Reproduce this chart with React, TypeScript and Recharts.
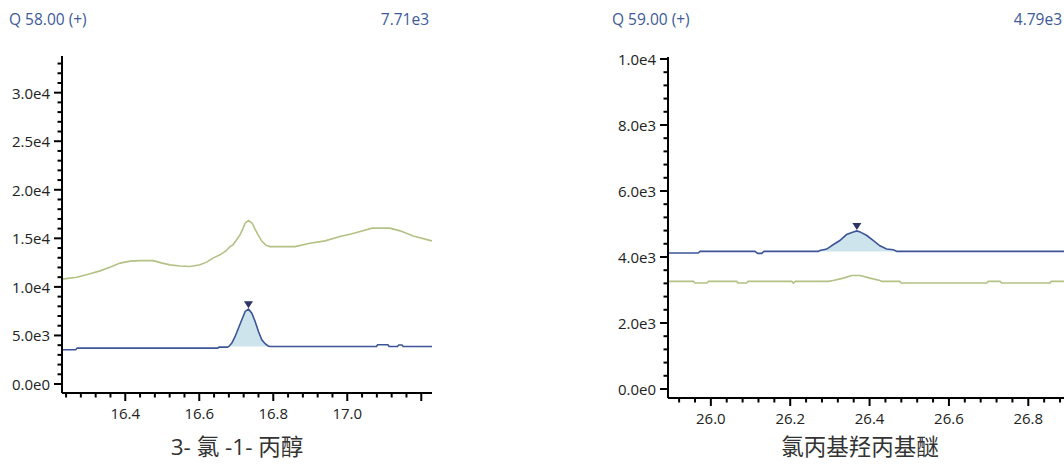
import { ComposedChart, Line, Area, XAxis, YAxis, ReferenceDot } from 'recharts';

// Q 58.00 (+) : 3-氯-1-丙醇, [time, intensity]
const leftQuant: [number, number][] = [
  [16.229, 3530], [16.266, 3530], [16.27, 3700], [16.65, 3700], [16.653, 3800], [16.676, 3800],
  [16.68, 3870], [16.688, 4220], [16.697, 4900], [16.706, 5760], [16.715, 6620], [16.724, 7470],
  [16.733, 7710], [16.742, 7300], [16.751, 6440], [16.76, 5410], [16.769, 4560], [16.778, 4150],
  [16.785, 3940], [16.791, 3870], [17.079, 3870], [17.082, 4040], [17.11, 4040], [17.113, 3870],
  [17.136, 3870], [17.139, 4020], [17.148, 4020], [17.151, 3870], [17.229, 3870],
];
const leftQual: [number, number][] = [
  [16.229, 10800], [16.269, 11000], [16.3, 11300], [16.332, 11650], [16.36, 12050], [16.386, 12450],
  [16.413, 12650], [16.44, 12700], [16.475, 12700], [16.5, 12450], [16.521, 12270], [16.548, 12150],
  [16.575, 12100], [16.602, 12270], [16.62, 12550], [16.637, 12960], [16.656, 13300], [16.672, 13700],
  [16.683, 14150], [16.691, 14330], [16.7, 14800], [16.71, 15360], [16.718, 16000], [16.724, 16560],
  [16.733, 16830], [16.743, 16560], [16.75, 16000], [16.759, 15360], [16.77, 14670], [16.78, 14300],
  [16.791, 14150], [16.83, 14150], [16.859, 14150], [16.899, 14500], [16.94, 14740], [16.98, 15190],
  [17.01, 15450], [17.035, 15700], [17.067, 16050], [17.115, 16050], [17.143, 15770], [17.178, 15250],
  [17.229, 14740],
];
const leftPeak = { start: 16.68, end: 16.791, base: 3870, apex: [16.733, 7710] as [number, number] };

// Q 59.00 (+) : 氯丙基羟丙基醚
const rightQuant: [number, number][] = [
  [25.892, 4120], [25.968, 4120], [25.973, 4170], [26.111, 4170], [26.118, 4110], [26.128, 4110],
  [26.134, 4170], [26.271, 4170], [26.275, 4200], [26.292, 4240], [26.308, 4370], [26.325, 4500],
  [26.342, 4680], [26.359, 4760], [26.368, 4790], [26.376, 4760], [26.393, 4650], [26.409, 4500],
  [26.426, 4340], [26.443, 4240], [26.46, 4220], [26.469, 4170], [26.89, 4170],
];
const rightQual: [number, number][] = [
  [25.892, 3260], [25.956, 3260], [25.96, 3210], [25.99, 3210], [25.994, 3260], [26.065, 3260],
  [26.068, 3210], [26.09, 3210], [26.094, 3260], [26.204, 3260], [26.208, 3210], [26.213, 3260],
  [26.296, 3260], [26.308, 3290], [26.334, 3360], [26.355, 3440], [26.376, 3440], [26.401, 3360],
  [26.426, 3290], [26.43, 3260], [26.476, 3260], [26.48, 3210], [26.695, 3210], [26.699, 3260],
  [26.729, 3260], [26.733, 3210], [26.855, 3210], [26.858, 3260], [26.89, 3260],
];
const rightPeak = { start: 26.271, end: 26.469, base: 4170, apex: [26.368, 4790] as [number, number] };

const leftYMajor = [0, 5000, 10000, 15000, 20000, 25000, 30000];
const leftXMajor = [16.4, 16.6, 16.8, 17.0, 17.2];
const leftXLabels = ['16.4', '16.6', '16.8', '17.0', ''];
const rightYMajor = [0, 2000, 4000, 6000, 8000, 10000];
const rightXMajor = [26.0, 26.2, 26.4, 26.6, 26.8];
const rightXLabels = ['26.0', '26.2', '26.4', '26.6', '26.8'];

const BLUE = '#3d5598';
const GREEN = '#b3c185';
const FILL = '#cde4ec';
const MARK = '#2d3366';
const HEAD = '#3d5a99';
const FONT = '"Open Sans", "Noto Sans", "Noto Sans CJK SC", sans-serif';

const steps = (from: number, to: number, step: number) => {
  const out: number[] = [];
  for (let i = 0; from + i * step <= to + 1e-9; i++) out.push(+(from + i * step).toFixed(4));
  return out;
};
const near = (arr: number[], v: number) => arr.findIndex((m) => Math.abs(m - v) < 1e-6);
const sci = (v: number) => {
  if (v === 0) return '0.0e0';
  const e = Math.floor(Math.log10(v));
  return `${(v / 10 ** e).toFixed(1)}e${e}`;
};
const toRows = (pts: [number, number][]) => pts.map(([t, v]) => ({ t, v }));

const YTick = (props: any) => {
  const { x, y, payload, major } = props;
  const isMaj = near(major, payload.value) >= 0;
  return (
    <g>
      <line x1={x - (isMaj ? 8 : 4.5)} x2={x} y1={y} y2={y} stroke="#000" strokeWidth={2} />
      {isMaj && (
        <text x={x - 12} y={y} textAnchor="end" dominantBaseline="central" fontSize={15} fill="#222" fontFamily={FONT}>
          {sci(payload.value)}
        </text>
      )}
    </g>
  );
};

const XTick = (props: any) => {
  const { x, y, payload, major, labels } = props;
  const i = near(major, payload.value);
  return (
    <g>
      <line x1={x} x2={x} y1={y} y2={y + (i >= 0 ? 8 : 4.5)} stroke="#000" strokeWidth={2} />
      {i >= 0 && labels[i] && (
        <text x={x} y={y + 20} textAnchor="middle" dominantBaseline="central" fontSize={15} fill="#222" fontFamily={FONT}>
          {labels[i]}
        </text>
      )}
    </g>
  );
};

const Marker = (props: any) => {
  const { cx, cy } = props;
  return <path d={`M${cx - 4.5},${cy - 8} L${cx + 4.5},${cy - 8} L${cx},${cy - 1} Z`} fill={MARK} />;
};

interface PanelProps {
  width: number;
  axisX: number;
  top: number;
  axisY: number;
  right: number;
  xDomain: [number, number];
  yDomain: [number, number];
  xTicks: number[];
  xMajor: number[];
  xLabels: string[];
  yTicks: number[];
  yMajor: number[];
  quant: [number, number][];
  qual: [number, number][];
  peak: { start: number; end: number; base: number; apex: [number, number] };
}

function Panel(p: PanelProps) {
  const fillRows = toRows(p.quant.filter(([t]) => t >= p.peak.start - 1e-9 && t <= p.peak.end + 1e-9));
  return (
    <ComposedChart
      width={p.width}
      height={464}
      margin={{ top: p.top, right: p.right, bottom: 0, left: 0 }}
      style={{ position: 'absolute', left: 0, top: 0 }}
    >
      <XAxis
        type="number"
        dataKey="t"
        domain={p.xDomain}
        allowDataOverflow
        ticks={p.xTicks}
        interval={0}
        height={464 - p.axisY}
        tickSize={0}
        tickMargin={0}
        axisLine={{ stroke: '#000', strokeWidth: 2 }}
        tick={<XTick major={p.xMajor} labels={p.xLabels} />}
      />
      <YAxis
        type="number"
        domain={p.yDomain}
        allowDataOverflow
        ticks={p.yTicks}
        interval={0}
        width={p.axisX}
        tickSize={0}
        tickMargin={0}
        axisLine={{ stroke: '#000', strokeWidth: 2 }}
        tick={<YTick major={p.yMajor} />}
      />
      <Area
        data={fillRows}
        dataKey="v"
        type="linear"
        baseValue={p.peak.base}
        stroke="none"
        fill={FILL}
        fillOpacity={1}
        isAnimationActive={false}
      />
      <Line data={toRows(p.qual)} dataKey="v" type="linear" stroke={GREEN} strokeWidth={1.6} dot={false} isAnimationActive={false} />
      <Line data={toRows(p.quant)} dataKey="v" type="linear" stroke={BLUE} strokeWidth={1.6} dot={false} isAnimationActive={false} />
      <ReferenceDot x={p.peak.apex[0]} y={p.peak.apex[1]} shape={<Marker />} />
    </ComposedChart>
  );
}

const headStyle = { position: 'absolute' as const, fontSize: 15.5, color: HEAD, fontFamily: FONT, lineHeight: '20px' };
const titleStyle = { position: 'absolute' as const, fontSize: 22.5, color: '#333', fontFamily: FONT, lineHeight: '22px', textAlign: 'center' as const };

export default function App() {
  return (
    <div style={{ position: 'absolute', left: 0, top: 0, width: 1064, height: 464, background: '#fff', overflow: 'hidden' }}>
      <div style={{ position: 'absolute', left: 0, top: 0, width: 440, height: 464 }}>
        <Panel
          width={440}
          axisX={62}
          top={56}
          axisY={393}
          right={8}
          xDomain={[16.229, 17.229]}
          yDomain={[-926, 33776]}
          xTicks={steps(16.24, 17.2, 0.04)}
          xMajor={leftXMajor}
          xLabels={leftXLabels}
          yTicks={steps(0, 33000, 1000)}
          yMajor={leftYMajor}
          quant={leftQuant}
          qual={leftQual}
          peak={leftPeak}
        />
      </div>
      <div style={{ position: 'absolute', left: 580, top: 0, width: 484, height: 464 }}>
        <Panel
          width={484}
          axisX={88}
          top={57}
          axisY={398}
          right={0}
          xDomain={[25.892, 26.89]}
          yDomain={[-273, 10060]}
          xTicks={steps(25.92, 26.88, 0.04)}
          xMajor={rightXMajor}
          xLabels={rightXLabels}
          yTicks={steps(0, 10000, 400)}
          yMajor={rightYMajor}
          quant={rightQuant}
          qual={rightQual}
          peak={rightPeak}
        />
      </div>
      <div style={{ ...headStyle, left: 9, top: 9 }}>Q 58.00 (+)</div>
      <div style={{ ...headStyle, right: 1064 - 429, top: 9 }}>7.71e3</div>
      <div style={{ ...headStyle, left: 612, top: 9 }}>Q 59.00 (+)</div>
      <div style={{ ...headStyle, right: 2, top: 9 }}>4.79e3</div>
      <div style={{ ...titleStyle, left: 137, width: 200, top: 436 }}>3- 氯 -1- 丙醇</div>
      <div style={{ ...titleStyle, left: 760, width: 200, top: 436 }}>氯丙基羟丙基醚</div>
    </div>
  );
}
